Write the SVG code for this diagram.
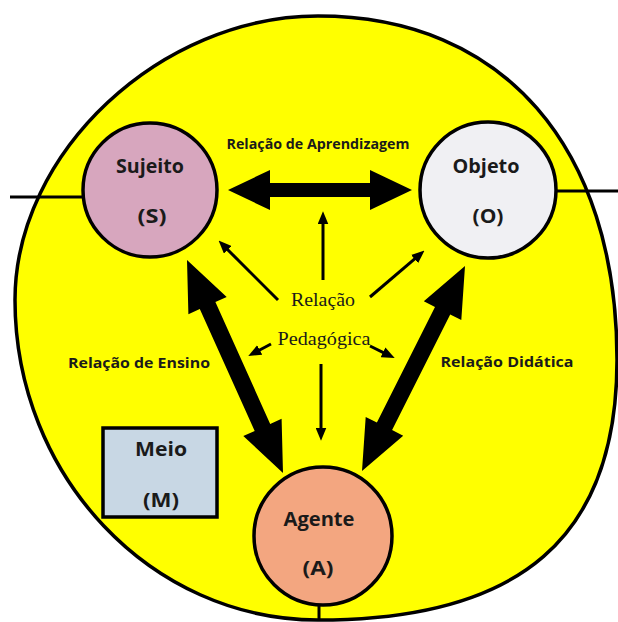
<svg xmlns="http://www.w3.org/2000/svg" width="618" height="622" viewBox="0 0 618 622">
  <style>
    .frame { fill: #ffff00; stroke: #000; stroke-width: 3.5; }
    .node { stroke: #000; stroke-width: 3.5; }
    .tie { stroke: #000; stroke-width: 3; fill: none; }
    .big { fill: #000; stroke: none; }
    .thin { stroke: #000; stroke-width: 3; fill: none; marker-end: url(#head); }
    .lbl { font-family: "Open Sans", "Liberation Sans", sans-serif; font-weight: bold; fill: #1a1a1a; text-anchor: middle; }
    .nodeText { font-size: 19px; }
    .relText { font-size: 14px; }
    .serif { font-family: "Liberation Serif", "Times New Roman", serif; font-size: 19px; fill: #1a1a1a; text-anchor: middle; }
  </style>
  <defs>
    <marker id="head" viewBox="0 0 12 10" markerWidth="13" markerHeight="11" refX="4" refY="5" orient="auto" markerUnits="userSpaceOnUse">
      <path d="M0,0 L12,5 L0,10 z" fill="#000"/>
    </marker>
  </defs>

  <!-- background frame -->
  <path class="frame" d="M318,16 C503,16 617,147 617,360 C617,537 521,620 318,620 C151,620 15,476 15,300 C15,152 161,16 318,16 Z"/>

  <g id="connectors">
    <line class="tie" x1="10" y1="197" x2="84" y2="197"/>
    <line class="tie" x1="555" y1="191" x2="618" y2="191"/>
    <line class="tie" x1="319" y1="603" x2="319" y2="620"/>

    <!-- Relação de Aprendizagem (S <-> O) -->
    <polygon class="big" points="228,190 270,170 270,183 370,183 370,170 412,190 370,210 370,197 270,197 270,210"/>
    <!-- Relação de Ensino (S <-> A) -->
    <polygon class="big" points="187,260 226.7,297 215.4,302.1 270.2,423.9 281.6,418.8 283,473 243.3,436 254.7,430.9 199.8,309.1 188.4,314.2"/>
    <!-- Relação Didática (O <-> A) -->
    <polygon class="big" points="465,266 461.3,320.1 450.2,314.5 392.1,430.1 403.2,435.7 362,471 365.7,416.9 376.9,422.5 435,306.9 423.8,301.3"/>

    <!-- Relação Pedagógica arrows -->
    <line class="thin" x1="278" y1="300" x2="224.7" y2="246.7"/>
    <line class="thin" x1="323" y1="280" x2="323" y2="220"/>
    <line class="thin" x1="370" y1="297" x2="417.9" y2="256.2"/>
    <line class="thin" x1="271" y1="344" x2="255.9" y2="352"/>
    <line class="thin" x1="370" y1="346" x2="386.9" y2="354.3"/>
    <line class="thin" x1="321" y1="364" x2="321" y2="432"/>
  </g>

  <g id="sujeito">
    <circle class="node" cx="150" cy="190" r="67" fill="#d7a6be"/>
    <text class="lbl nodeText" x="150" y="173" textLength="68" lengthAdjust="spacingAndGlyphs">Sujeito</text>
    <text class="lbl nodeText" x="152" y="223" textLength="29" lengthAdjust="spacingAndGlyphs">(S)</text>
  </g>

  <g id="objeto">
    <circle class="node" cx="488" cy="190" r="68" fill="#f0f0f3"/>
    <text class="lbl nodeText" x="486" y="173" textLength="67" lengthAdjust="spacingAndGlyphs">Objeto</text>
    <text class="lbl nodeText" x="488" y="223" textLength="31" lengthAdjust="spacingAndGlyphs">(O)</text>
  </g>

  <g id="agente">
    <circle class="node" cx="323" cy="536" r="69" fill="#f3a680"/>
    <text class="lbl nodeText" x="319" y="526" textLength="71" lengthAdjust="spacingAndGlyphs">Agente</text>
    <text class="lbl nodeText" x="318" y="575" textLength="31" lengthAdjust="spacingAndGlyphs">(A)</text>
  </g>

  <g id="meio">
    <rect class="node" x="103" y="428" width="114" height="89" fill="#c8d7e4"/>
    <text class="lbl nodeText" x="161" y="456" textLength="52" lengthAdjust="spacingAndGlyphs">Meio</text>
    <text class="lbl nodeText" x="161" y="507" textLength="36" lengthAdjust="spacingAndGlyphs">(M)</text>
  </g>

  <g id="labels">
    <text class="lbl relText" x="318" y="149" textLength="183" lengthAdjust="spacingAndGlyphs">Relação de Aprendizagem</text>
    <text class="lbl relText" x="139" y="368" textLength="142" lengthAdjust="spacingAndGlyphs">Relação de Ensino</text>
    <text class="lbl relText" x="507" y="367" textLength="133" lengthAdjust="spacingAndGlyphs">Relação Didática</text>
    <text class="serif" x="323" y="306" textLength="64" lengthAdjust="spacingAndGlyphs">Relação</text>
    <text class="serif" x="324" y="345" textLength="93" lengthAdjust="spacingAndGlyphs">Pedagógica</text>
  </g>
</svg>
